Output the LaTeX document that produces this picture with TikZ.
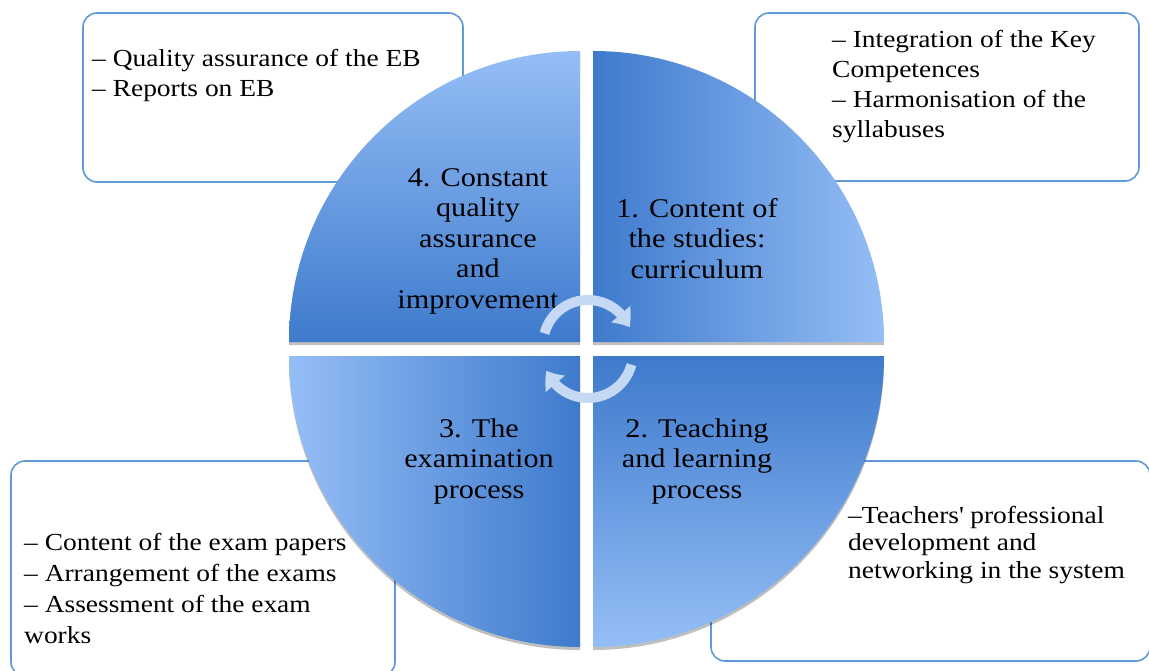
\documentclass[tikz,border=0pt]{standalone}
\usepackage{fontspec}
\setmainfont{Liberation Serif}[FakeStretch=1.12]
\usepackage{tikz}
\usetikzlibrary{arrows.meta,bending}
\usetikzlibrary{shadows}
\definecolor{quadlight}{RGB}{149,190,246}
\definecolor{quaddark}{RGB}{62,122,204}
\definecolor{boxline}{RGB}{96,154,214}
\definecolor{cyclearrow}{RGB}{198,217,244}

\begin{document}
\begin{tikzpicture}[
x=1pt,y=-1pt,
InfoBox/.style={draw=boxline,line width=1.6pt,fill=white,rounded corners=14pt},
BoxText/.style={align=left,inner sep=0pt,font=\fontsize{24.5}{30}\selectfont},
Quarter/.style={drop shadow={shadow xshift=0pt,shadow yshift=-3pt,fill=black,opacity=0.25}},
QuarterTL/.style={Quarter,top color=quadlight,bottom color=quaddark},
QuarterTR/.style={Quarter,left color=quaddark,right color=quadlight},
QuarterBR/.style={Quarter,top color=quaddark,bottom color=quadlight},
QuarterBL/.style={Quarter,left color=quadlight,right color=quaddark},
QuarterLabel/.style={align=center,inner sep=0pt,font=\fontsize{27}{30.5}\selectfont},
CycleArrow/.style={draw=cyclearrow,line width=10pt,-{Triangle[width=24pt,length=16pt,bend]}}
]
\clip (0,0) rectangle (1149,670);

% radius of the four quarters
\pgfmathparse{291}	\let\R\pgfmathresult

% corners of the quarters, a small gap between them
\coordinate (TL) at (580,342);
\coordinate (TR) at (593,342);
\coordinate (BR) at (593,356);
\coordinate (BL) at (580,356);

% side boxes
\node[InfoBox,minimum width=380pt,minimum height=169pt] (boxQuality) at (273,97.5) {};
\node[InfoBox,minimum width=384pt,minimum height=168pt] (boxContent) at (947,97) {};
\node[InfoBox,minimum width=384pt,minimum height=215pt] (boxExam) at (203,568.5) {};
\node[InfoBox,minimum width=439pt,minimum height=200pt] (boxTeach) at (930.5,561) {};

\node[BoxText,anchor=base west] (txtQuality) at (92,96)
{-- Quality assurance of the EB\\-- Reports on EB};
\node[BoxText,anchor=base west] (txtContent) at (832,137)
{-- Integration of the Key\\Competences\\-- Harmonisation of the\\syllabuses};
\node[BoxText,anchor=base west,font=\fontsize{24.5}{31}\selectfont] (txtExam) at (24,643)
{-- Content of the exam papers\\-- Arrangement of the exams\\-- Assessment of the exam\\works};
\node[BoxText,anchor=base west,font=\fontsize{24.5}{27.5}\selectfont] (txtTeach) at (848,578)
{--Teachers\textquotesingle\ professional\\development and\\networking in the system};

% the four quarters of the cycle
\path[QuarterTL] (TL) -- ++(-\R,0) arc[start angle=180,end angle=270,radius=\R] -- cycle;
\path[QuarterTR] (TR) -- ++(0,-\R) arc[start angle=270,end angle=360,radius=\R] -- cycle;
\path[QuarterBR] (BR) -- ++(\R,0) arc[start angle=0,end angle=90,radius=\R] -- cycle;
\path[QuarterBL] (BL) -- ++(0,\R) arc[start angle=90,end angle=180,radius=\R] -- cycle;

\node[QuarterLabel,anchor=base] (lblQuality) at (478,308)
{4. Constant\\quality\\assurance\\and\\improvement};
\node[QuarterLabel,anchor=base] (lblContent) at (697,278)
{1. Content of\\the studies:\\curriculum};
\node[QuarterLabel,anchor=base] (lblExam) at (479,498)
{3. The\\examination\\process};
\node[QuarterLabel,anchor=base] (lblTeach) at (697,498)
{2. Teaching\\and learning\\process};

% turning arrows in the middle
\coordinate (Cup) at (588,345);
\coordinate (Cdown) at (588,353);
\draw[CycleArrow] ([shift={(195:45)}]Cup) arc[start angle=195,end angle=337,radius=45];
\draw[CycleArrow] ([shift={(15:45)}]Cdown) arc[start angle=15,end angle=157,radius=45];

\end{tikzpicture}
\end{document}
